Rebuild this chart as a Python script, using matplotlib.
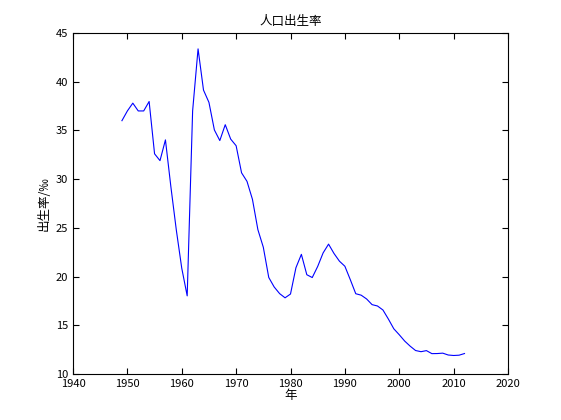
import matplotlib
matplotlib.use('Agg')
import matplotlib.pyplot as plt

plt.rcParams['font.family'] = ['Noto Sans CJK SC', 'DejaVu Sans']

years = list(range(1949, 2013))
rate = [36.0, 37.0, 37.8, 37.0, 37.0, 37.97, 32.6, 31.9, 34.03, 29.22,
        24.78, 20.86, 18.02, 37.01, 43.37, 39.14, 37.88, 35.05, 33.96, 35.59,
        34.11, 33.43, 30.65, 29.77, 27.93, 24.82, 23.01, 19.91, 18.93, 18.25,
        17.82, 18.21, 20.91, 22.28, 20.19, 19.90, 21.04, 22.43, 23.33, 22.37,
        21.58, 21.06, 19.68, 18.24, 18.09, 17.70, 17.12, 16.98, 16.57, 15.64,
        14.64, 14.03, 13.38, 12.86, 12.41, 12.29, 12.40, 12.09, 12.10, 12.14,
        11.95, 11.90, 11.93, 12.10]

fig = plt.figure(figsize=(5.61, 4.2), dpi=100)
ax = fig.add_axes([73/561, 1-374/420, 435/561, 341/420])
ax.plot(years, rate, color='#0000ff', linewidth=0.8)
ax.set_xlim(1940, 2020)
ax.set_ylim(10, 45)
ax.set_xticks(range(1940, 2021, 10))
ax.set_yticks(range(10, 46, 5))
ax.tick_params(direction='in', labelsize=8, top=True, right=True, length=4)
ax.set_title('人口出生率', fontsize=9)
ax.set_xlabel('年', fontsize=9, labelpad=0)
ax.set_ylabel('出生率/‰', fontsize=9)
fig.savefig('out.png', dpi=100)
